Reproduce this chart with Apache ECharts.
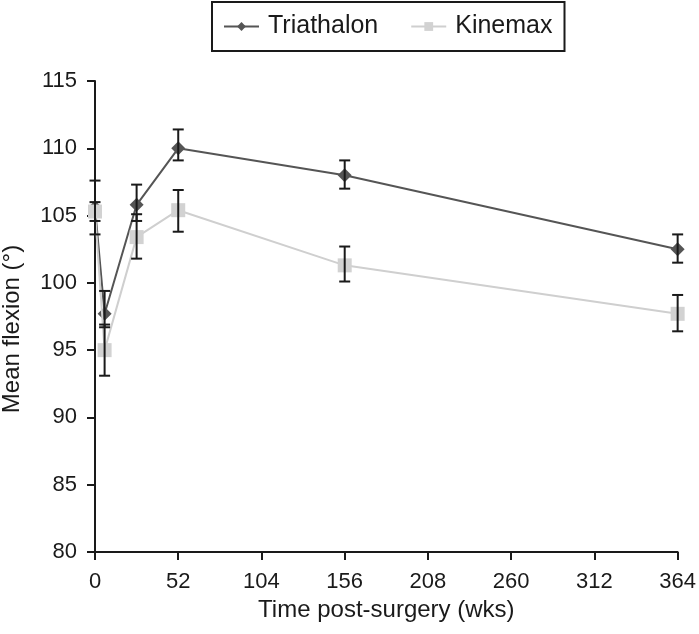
<!DOCTYPE html>
<html>
<head>
<meta charset="utf-8">
<script src="https://cdn.jsdelivr.net/npm/echarts@6/dist/echarts.min.js"></script>
<style>html,body{margin:0;padding:0;background:#fff}#c{width:699px;height:634px}</style>
</head>
<body>
<div id="c"></div>
<script>
const weeks = [0, 6, 26, 52, 156, 364];
const xTicks = [0, 52, 104, 156, 208, 260, 312, 364];
const triMean = [105.6, 97.7, 105.8, 110.0, 108.0, 102.5];
const triLow  = [103.6, 96.7, 104.6, 109.1, 107.0, 101.5];
const triHigh = [107.6, 99.4, 107.3, 111.4, 109.1, 103.6];
const kinMean = [105.3, 95.0, 103.4, 105.4, 101.3, 97.7];
const kinLow  = [104.6, 93.1, 101.8, 103.8, 100.1, 96.4];
const kinHigh = [106.0, 96.9, 105.1, 106.9, 102.7, 99.1];

const FONT = 'Liberation Sans';
const TXT = '#1a1a1a';

function errData(low, high) {
  return weeks.map((w, i) => [w, low[i], high[i]]);
}
function errSeries(name, low, high) {
  return {
    type: 'custom',
    name: name + ' err',
    z: 5,
    silent: true,
    data: errData(low, high),
    encode: { x: 0, y: [1, 2] },
    renderItem: function (params, api) {
      const x = api.value(0);
      const lo = api.coord([x, api.value(1)]);
      const hi = api.coord([x, api.value(2)]);
      const hw = 5.5;
      const st = { stroke: '#1a1a1a', lineWidth: 2 };
      return {
        type: 'group',
        children: [
          { type: 'line', shape: { x1: lo[0], y1: lo[1], x2: hi[0], y2: hi[1] }, style: st },
          { type: 'line', shape: { x1: lo[0] - hw, y1: lo[1], x2: lo[0] + hw, y2: lo[1] }, style: st },
          { type: 'line', shape: { x1: hi[0] - hw, y1: hi[1], x2: hi[0] + hw, y2: hi[1] }, style: st }
        ]
      };
    }
  };
}

const chart = echarts.init(document.getElementById('c'), null, { renderer: 'canvas' });
chart.setOption({
  animation: false,
  backgroundColor: '#fff',
  textStyle: { fontFamily: FONT, color: TXT },
  legend: {
    data: ['Triathalon', 'Kinemax'],
    left: 212,
    top: 2,
    borderColor: '#1a1a1a',
    borderWidth: 2,
    borderRadius: 0,
    padding: [12, 12, 12, 11],
    itemGap: 32,
    itemWidth: 35,
    itemHeight: 11,
    textStyle: { fontFamily: FONT, fontSize: 25, color: TXT, padding: [0, 0, 0, 4] }
  },
  graphic: [{
    type: 'text',
    x: 12, y: 329,
    rotation: Math.PI / 2,
    style: { text: 'Mean flexion (°)', fontFamily: FONT, fontSize: 24, fill: TXT,
      align: 'center', verticalAlign: 'middle' }
  }],
  grid: { left: 95, right: 21, top: 81, bottom: 82, containLabel: false },
  xAxis: {
    type: 'value',
    min: 0, max: 364, interval: 52,
    name: 'Time post-surgery (wks)',
    nameLocation: 'middle',
    nameGap: 40,
    nameTextStyle: { fontFamily: FONT, fontSize: 24, color: TXT },
    axisLine: { show: true, lineStyle: { color: '#1a1a1a', width: 2 } },
    axisTick: { show: true, length: 8, lineStyle: { color: '#1a1a1a', width: 2 } },
    axisLabel: { fontFamily: FONT, fontSize: 22, color: TXT, margin: 19,
      formatter: v => xTicks.includes(v) ? String(v) : '' },
    splitLine: { show: false }
  },
  yAxis: {
    type: 'value',
    min: 80, max: 115, interval: 5,
    axisLine: { show: true, lineStyle: { color: '#1a1a1a', width: 2 } },
    axisTick: { show: true, length: 8, lineStyle: { color: '#1a1a1a', width: 2 } },
    axisLabel: { fontFamily: FONT, fontSize: 22, color: TXT, margin: 18 },
    splitLine: { show: false }
  },
  series: [
    {
      name: 'Triathalon', type: 'line', z: 3,
      data: weeks.map((w, i) => [w, triMean[i]]),
      symbol: 'diamond', symbolSize: 14,
      itemStyle: { color: '#555555' },
      lineStyle: { color: '#555555', width: 2 }
    },
    {
      name: 'Kinemax', type: 'line', z: 4,
      data: weeks.map((w, i) => [w, kinMean[i]]),
      symbol: 'rect', symbolSize: 14,
      itemStyle: { color: '#d2d2d2' },
      lineStyle: { color: '#cfcfcf', width: 2 }
    },
    errSeries('Triathalon', triLow, triHigh),
    errSeries('Kinemax', kinLow, kinHigh)
  ]
});
</script>
</body>
</html>
